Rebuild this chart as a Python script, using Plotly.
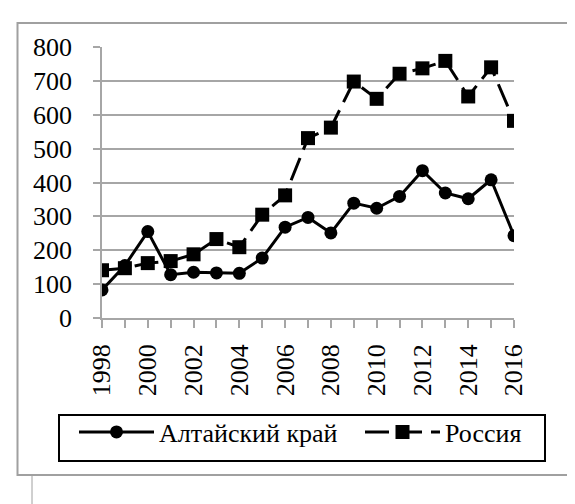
import plotly.graph_objects as go

years = list(range(1998, 2017))
altai = [83, 155, 255, 128, 135, 133, 132, 177, 268, 297, 251, 339, 324, 359, 435, 369, 352, 408, 243]
russia = [141, 147, 162, 168, 188, 233, 209, 305, 362, 531, 562, 698, 647, 721, 737, 759, 654, 740, 582]

FONT = "Liberation Serif"
GRID = "#a6a6a6"

# plot area in px: x 94..506, y 39..310
L, R, T, B = 94, 69, 39, 194
PW, PH = 575 - L - R, 504 - T - B


def px_x(p):
    return (p - L) / PW


def px_y(p):
    return (504 - B - p) / PH


fig = go.Figure()
fig.add_trace(go.Scatter(
    x=years, y=altai, name="Алтайский край", mode="lines+markers",
    line=dict(color="black", width=3),
    marker=dict(symbol="circle", size=13, color="black"),
    legend="legend",
))
fig.add_trace(go.Scatter(
    x=years, y=russia, name="Россия", mode="lines+markers",
    line=dict(color="black", width=3, dash="24px,9px"),
    marker=dict(symbol="square", size=14, color="black"),
    legend="legend2",
))

# outer chart frame, stray table rule below it, legend box
fig.add_shape(type="rect", xref="paper", yref="paper",
              x0=px_x(9.5), x1=px_x(590), y0=px_y(467), y1=px_y(15),
              line=dict(color="#a0a0a0", width=2), layer="below")
fig.add_shape(type="line", xref="paper", yref="paper",
              x0=px_x(24), x1=px_x(24), y0=px_y(468), y1=px_y(510),
              line=dict(color="#a0a0a0", width=1), layer="below")
fig.add_shape(type="rect", xref="paper", yref="paper",
              x0=px_x(51), x1=px_x(537), y0=px_y(453), y1=px_y(407),
              line=dict(color="black", width=2), fillcolor="white", layer="below")

fig.update_xaxes(
    range=[1998, 2016], tickmode="array", tickvals=years[::2],
    tickangle=-90, ticks="outside", ticklen=8, tickwidth=1.5, tickcolor=GRID,
    minor=dict(dtick=1, tick0=1998, ticks="outside", ticklen=8, tickwidth=1.5, tickcolor=GRID),
    showgrid=False, showline=True, linecolor=GRID, linewidth=1.5,
    ticklabelstandoff=6, tickfont=dict(family=FONT, size=26, color="black"),
    zeroline=False,
)
fig.update_yaxes(
    range=[0, 800], dtick=100, ticks="outside", ticklen=7, tickwidth=1.5, tickcolor=GRID,
    showgrid=True, gridcolor=GRID, gridwidth=1.5,
    showline=True, linecolor=GRID, linewidth=1.5, zeroline=False,
    ticklabelstandoff=16, tickfont=dict(family=FONT, size=26, color="black"),
)

legend_style = dict(
    orientation="h", xanchor="left", yanchor="middle", y=px_y(424),
    borderwidth=0, bgcolor="rgba(0,0,0,0)", itemwidth=75,
    font=dict(family=FONT, size=26, color="black"),
)

fig.update_layout(
    width=575, height=504,
    margin=dict(l=L, r=R, t=T, b=B),
    paper_bgcolor="white", plot_bgcolor="white",
    font=dict(family=FONT, color="black"),
    showlegend=True,
    legend=dict(x=px_x(66), **legend_style),
    legend2=dict(x=px_x(352), **legend_style),
)

fig.write_html("out.html")
